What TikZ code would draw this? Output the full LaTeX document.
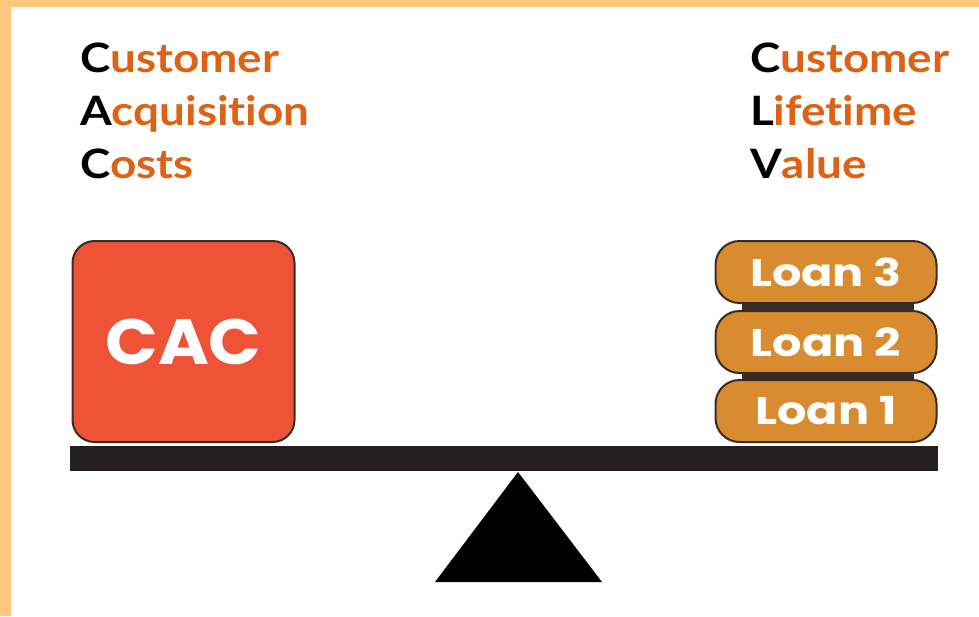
\documentclass[tikz,border=0pt]{standalone}
\usepackage{fontspec}
\setmainfont{Lato}[FakeStretch=1.13,Ligatures=NoCommon]
\newfontfamily\popcac{Poppins}[FakeStretch=1.08]
\newfontfamily\poploan{Poppins}[FakeStretch=1.2]
\definecolor{bord}{HTML}{FFC680}
\definecolor{txtor}{HTML}{DD6216}
\definecolor{cacred}{HTML}{EE5338}
\definecolor{loanor}{HTML}{D98B30}
\definecolor{edge}{HTML}{3A2C22}
\definecolor{beamc}{HTML}{231F20}
\begin{document}
\begin{tikzpicture}[x=1pt,y=-1pt,
  lbl/.style={anchor=base west,inner sep=0pt,font=\fontsize{40.5}{48}\selectfont\bfseries,text=txtor},
  cacbox/.style={draw=edge,line width=2pt,fill=cacred,rounded corners=22pt,minimum width=222pt,minimum height=201pt,inner sep=0pt,text=white,font=\popcac\fontsize{64}{70}\selectfont\bfseries},
  loanbox/.style={draw=edge,line width=2pt,fill=loanor,rounded corners=24pt,minimum width=221pt,minimum height=62pt,inner sep=0pt,text=white,font=\poploan\fontsize{38.5}{46}\selectfont\bfseries}]
\fill[bord] (0,0) rectangle (979,616);
\fill[white] (11,7) rectangle (979,616);
\useasboundingbox (0,0) rectangle (979,616);
% texts
\node[lbl] (l1) at (80,72) {\textcolor{black}{C}ustomer};
\node[lbl] (l2) at (80,125) {\textcolor{black}{A}cquisition};
\node[lbl] (l3) at (80,178) {\textcolor{black}{C}osts};
\node[lbl] (r1) at (750,72) {\textcolor{black}{C}ustomer};
\node[lbl] (r2) at (750,125) {\textcolor{black}{L}ifetime};
\node[lbl] (r3) at (750,178) {\textcolor{black}{V}alue};
% beam and fulcrum
\fill[beamc] (70,446) rectangle (938,471);
\fill[black] (518,472) -- (602,582) -- (435,582) -- cycle;
% CAC
\node[cacbox] (cac) at (183.5,341.5) {CAC};
% loans
\fill[edge] (742,296) rectangle (914,386);
\node[loanbox] (loan1) at (826,411) {Loan 1};
\node[loanbox] (loan2) at (826,342) {Loan 2};
\node[loanbox] (loan3) at (826,272) {Loan 3};
\end{tikzpicture}
\end{document}
